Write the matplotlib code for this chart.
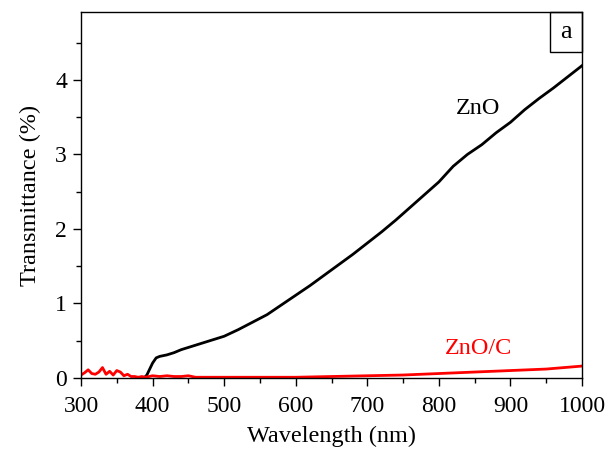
import matplotlib
matplotlib.use("Agg")
import matplotlib.pyplot as plt
from matplotlib.patches import Rectangle
from matplotlib.ticker import MultipleLocator

plt.rcParams['font.family'] = ['Liberation Serif', 'DejaVu Serif']

zno_wl = [388, 392, 396, 400, 405, 410, 420, 430, 440, 450, 460, 480, 500, 520, 540,
          560, 580, 600, 620, 640, 660, 680, 700, 720, 740, 760, 780, 800, 820, 840,
          860, 880, 900, 920, 940, 960, 980, 1000]
zno_t = [0.0, 0.04, 0.12, 0.20, 0.27, 0.29, 0.31, 0.34, 0.38, 0.41, 0.44, 0.50, 0.56, 0.65, 0.75,
         0.85, 0.98, 1.11, 1.24, 1.38, 1.52, 1.66, 1.81, 1.96, 2.12, 2.29, 2.46, 2.63, 2.84, 3.00,
         3.13, 3.29, 3.43, 3.60, 3.75, 3.89, 4.04, 4.19]

znoc_wl = [300, 305, 310, 315, 320, 325, 330, 335, 340, 345, 350, 355, 360, 365, 370, 375,
           380, 385, 390, 400, 410, 420, 430, 440, 450, 460, 480, 500, 550, 600, 650, 700,
           750, 800, 850, 900, 950, 1000]
znoc_t = [0.04, 0.07, 0.11, 0.06, 0.05, 0.08, 0.14, 0.05, 0.09, 0.04, 0.10, 0.08, 0.03, 0.05, 0.02, 0.02,
          0.01, 0.02, 0.01, 0.03, 0.02, 0.03, 0.02, 0.02, 0.03, 0.01, 0.01, 0.01, 0.01, 0.01, 0.02, 0.03,
          0.04, 0.06, 0.08, 0.10, 0.12, 0.16]

fig = plt.figure(figsize=(6.14, 4.49), dpi=100)
ax = fig.add_axes([81/614, 71/449, 501/614, 366/449])

ax.plot(zno_wl, zno_t, color='black', lw=2.0)
ax.plot(znoc_wl, znoc_t, color='#ff0000', lw=2.0)

ax.set_xlim(300, 1000)
ax.set_ylim(0, 4.91)
ax.xaxis.set_major_locator(MultipleLocator(100))
ax.xaxis.set_minor_locator(MultipleLocator(50))
ax.yaxis.set_major_locator(MultipleLocator(1))
ax.yaxis.set_minor_locator(MultipleLocator(0.5))
ax.tick_params(which='major', direction='out', length=6, width=1.0, labelsize=17)
ax.tick_params(axis='x', which='major', pad=7)
ax.tick_params(axis='y', which='major', pad=4)
ax.tick_params(which='minor', direction='out', length=3.5, width=1.0)
ax.tick_params(top=False, right=False)
for s in ax.spines.values():
    s.set_linewidth(1.0)

ax.set_xlabel('Wavelength (nm)', fontsize=17.5, labelpad=6)
ax.set_ylabel('Transmittance (%)', fontsize=17.5, labelpad=10)

ax.text(855, 3.61, 'ZnO', color='black', fontsize=17.5, ha='center', va='center')
ax.text(855, 0.39, 'ZnO/C', color='#ff0000', fontsize=17.5, ha='center', va='center')

x0 = (550 - 81) / 501
y0 = (378 - 52) / 366
ax.add_patch(Rectangle((x0, y0), 1 - x0, 1 - y0, transform=ax.transAxes,
                       fill=False, edgecolor='black', lw=1.0, clip_on=False))
ax.text((x0 + 1) / 2, (y0 + 1) / 2, 'a', transform=ax.transAxes, fontsize=19,
        ha='center', va='center')

fig.savefig('out.png', dpi=100)
